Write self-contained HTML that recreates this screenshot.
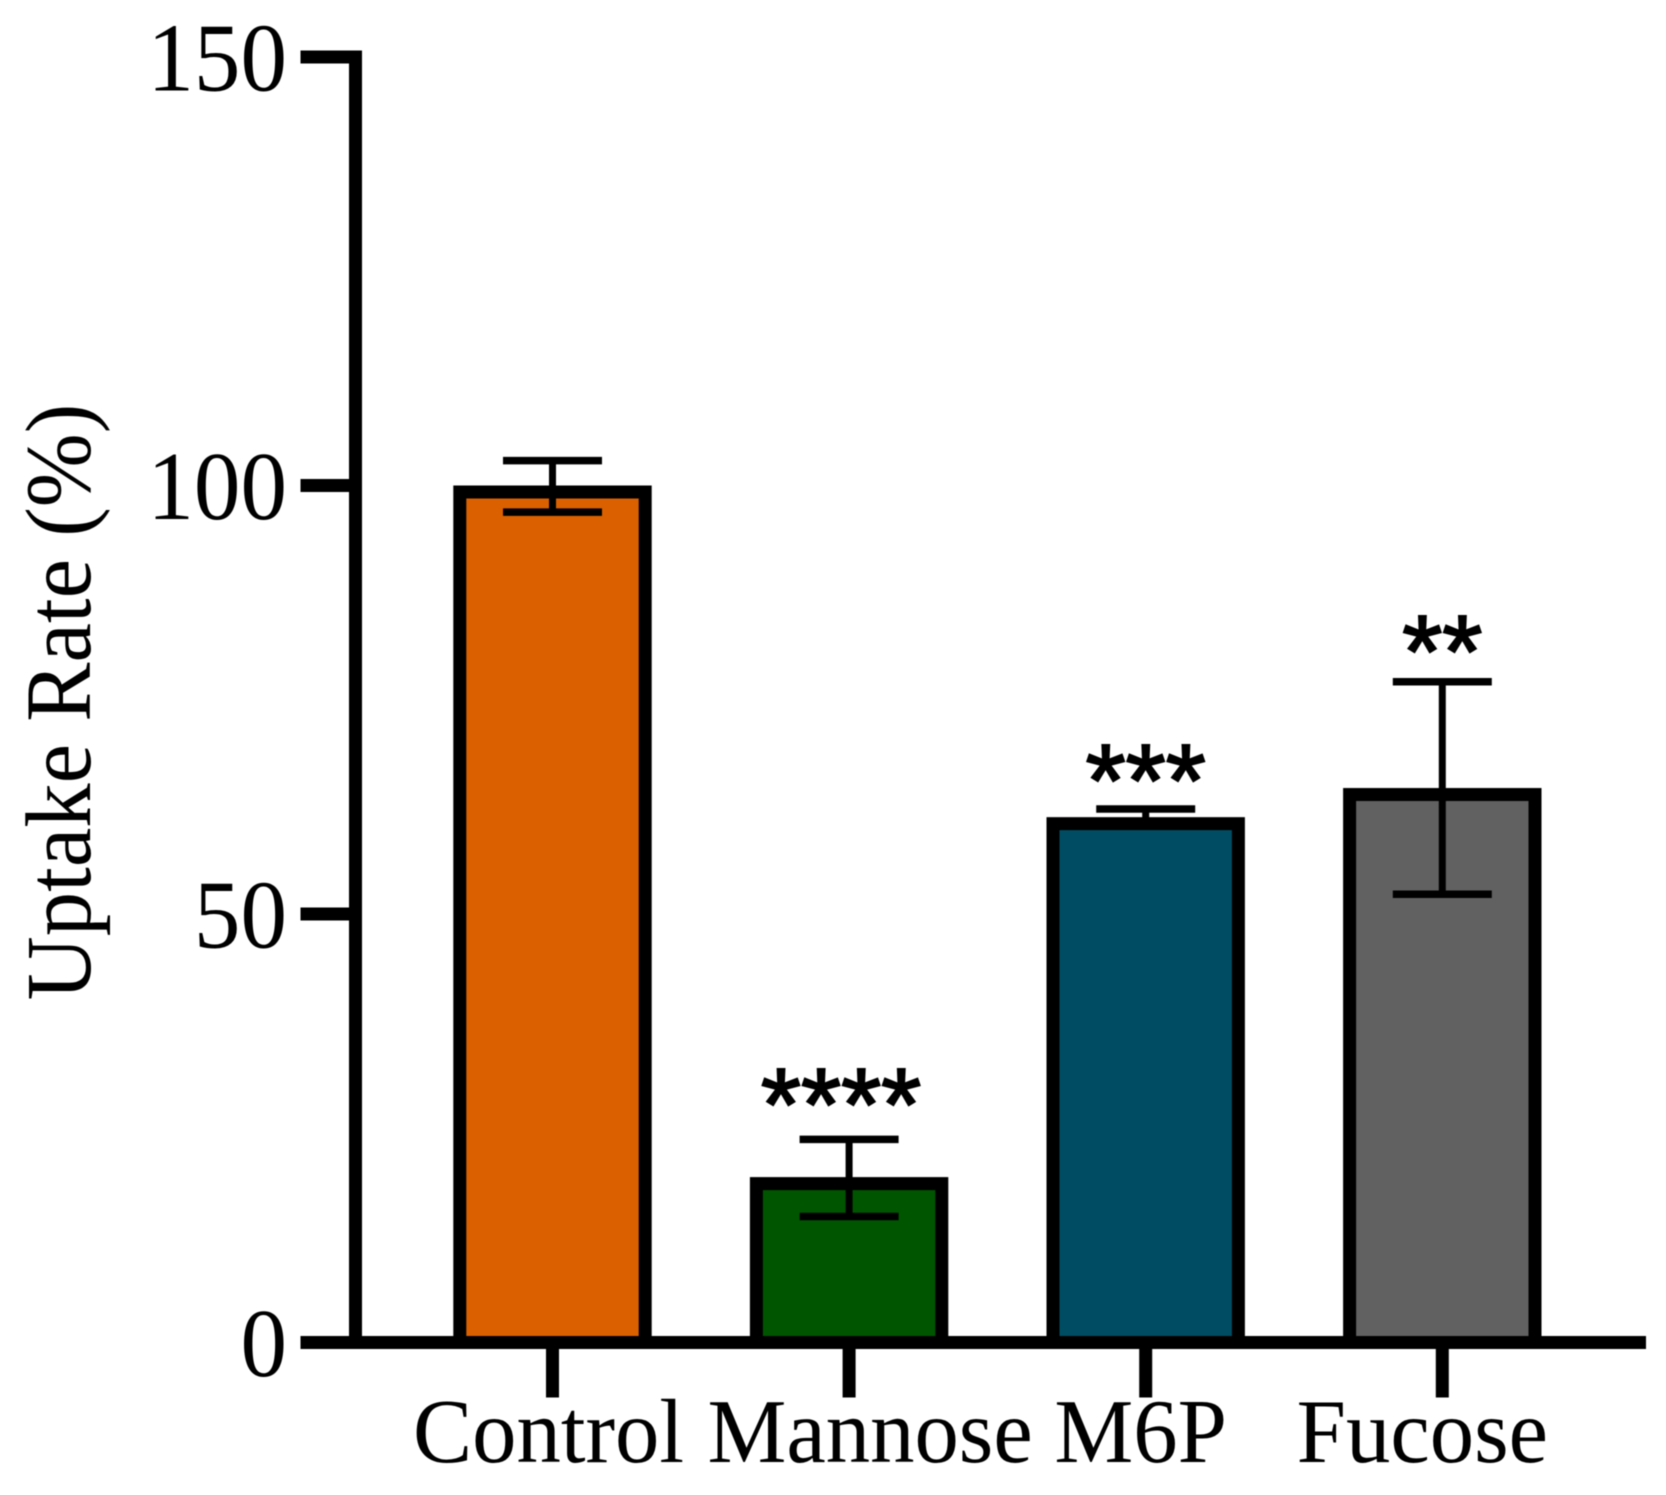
<!DOCTYPE html>
<html lang="en">
<head>
<meta charset="utf-8">
<title>Uptake Rate Bar Chart</title>
<style>
  html, body { margin: 0; padding: 0; background: #fff; }
  svg { display: block; filter: blur(0.5px); }
  .serif { font-family: "Liberation Serif", "Times New Roman", serif; fill: #000; }
  .sans { font-family: "Liberation Sans", Arial, sans-serif; fill: #000; stroke: #000; stroke-width: 2; }
</style>
</head>
<body>
<svg id="chart" xmlns="http://www.w3.org/2000/svg" width="1666" height="1495" viewBox="0 0 1666 1495">
  <rect x="0" y="0" width="1666" height="1495" fill="#fff"/>
  <g id="bars"></g>
  <g id="errors"></g>
  <g id="axes"></g>
  <g id="sig"></g>
  <text class="serif" text-anchor="middle" font-size="93" transform="translate(90,702) rotate(-90) scale(0.955,1)">Uptake Rate (%)</text>
</svg>
<script>
const categories = ['Control', 'Mannose', 'M6P', 'Fucose'];
const uptakeValues = [100, 19.3, 61.3, 64.7];
const errorHigh = [102.9, 23.7, 62.25, 77.1];
const errorLow = [96.9, 14.7, 60.5, 52.3];
const sigLabels = ['', '****', '***', '**'];
const barColors = ['#DB6100', '#005500', '#004D63', '#616161'];
const yTicks = [0, 50, 100, 150];

const NS = 'http://www.w3.org/2000/svg';
const Y0 = 1342.5, PX_PER_UNIT = 8.57;
const FIRST_X = 552.5, STEP_X = 296.6;
const BAR_W = 198.4, BORDER = 13, CAP_W = 99;
const labelShift = [-4, 21, -5, -20];
const sigShiftX = [0, -8, 0, 0];
const sigShiftY = [0, 0.5, 7, 5];

function yScale(v) { return Y0 - v * PX_PER_UNIT; }
function xScale(i) { return FIRST_X + i * STEP_X; }
function make(tag, attrs, parent) {
  const el = document.createElementNS(NS, tag);
  for (const k in attrs) el.setAttribute(k, attrs[k]);
  parent.appendChild(el);
  return el;
}

const barsG = document.getElementById('bars');
const errorsG = document.getElementById('errors');
const axesG = document.getElementById('axes');
const sigG = document.getElementById('sig');

categories.forEach(function (name, i) {
  const cx = xScale(i);
  const top = yScale(uptakeValues[i]);
  const bar = make('rect', {
    x: cx - BAR_W / 2 + BORDER / 2,
    y: top + BORDER / 2,
    width: BAR_W - BORDER,
    height: Y0 - top - BORDER / 2,
    fill: barColors[i],
    stroke: '#000',
    'stroke-width': BORDER
  }, barsG);
  
  

  const hi = yScale(errorHigh[i]);
  const lo = yScale(errorLow[i]);
  const stem = make('line', { x1: cx, x2: cx, y1: hi, y2: lo, stroke: '#000', 'stroke-width': 7 }, errorsG);
  
  
  const capTop = make('line', { x1: cx - CAP_W / 2, x2: cx + CAP_W / 2, y1: hi, y2: hi, stroke: '#000', 'stroke-width': 7.5 }, errorsG);
  
  
  const capLow = make('line', { x1: cx - CAP_W / 2, x2: cx + CAP_W / 2, y1: lo, y2: lo, stroke: '#000', 'stroke-width': 7.5 }, errorsG);
  
  

  if (sigLabels[i]) {
    const s = make('text', {
      x: cx + sigShiftX[i],
      y: hi + sigShiftY[i],
      'text-anchor': 'middle',
      'font-size': 103,
      class: 'sans'
    }, sigG);
    s.textContent = sigLabels[i];
    
    
  }

  const tick = make('rect', { x: cx - 6.5, y: Y0, width: 13, height: 55, fill: '#000' }, axesG);
  
  

  const label = make('text', {
    transform: 'translate(' + (cx + labelShift[i]) + ',1462) scale(0.975,1)',
    'text-anchor': 'middle',
    'font-size': 91,
    class: 'serif'
  }, axesG);
  label.textContent = name;
  
  
});

const yAxis = make('rect', { x: 349, y: yScale(150) - 6.5, width: 13, height: Y0 - yScale(150) + 13, fill: '#000' }, axesG);



const xAxis = make('rect', { x: 300.5, y: Y0 - 6.5, width: 1345.5, height: 13, fill: '#000' }, axesG);



yTicks.forEach(function (v) {
  const y = yScale(v);
  const t = make('rect', { x: 300.5, y: y - 6.5, width: 51, height: 13, fill: '#000' }, axesG);
  
  
  const l = make('text', {
    transform: 'translate(287,' + (y + 33.5) + ') scale(0.95,1)',
    'text-anchor': 'end',
    'font-size': 98,
    class: 'serif'
  }, axesG);
  l.textContent = String(v);
  
  
});
</script>
</body>
</html>
